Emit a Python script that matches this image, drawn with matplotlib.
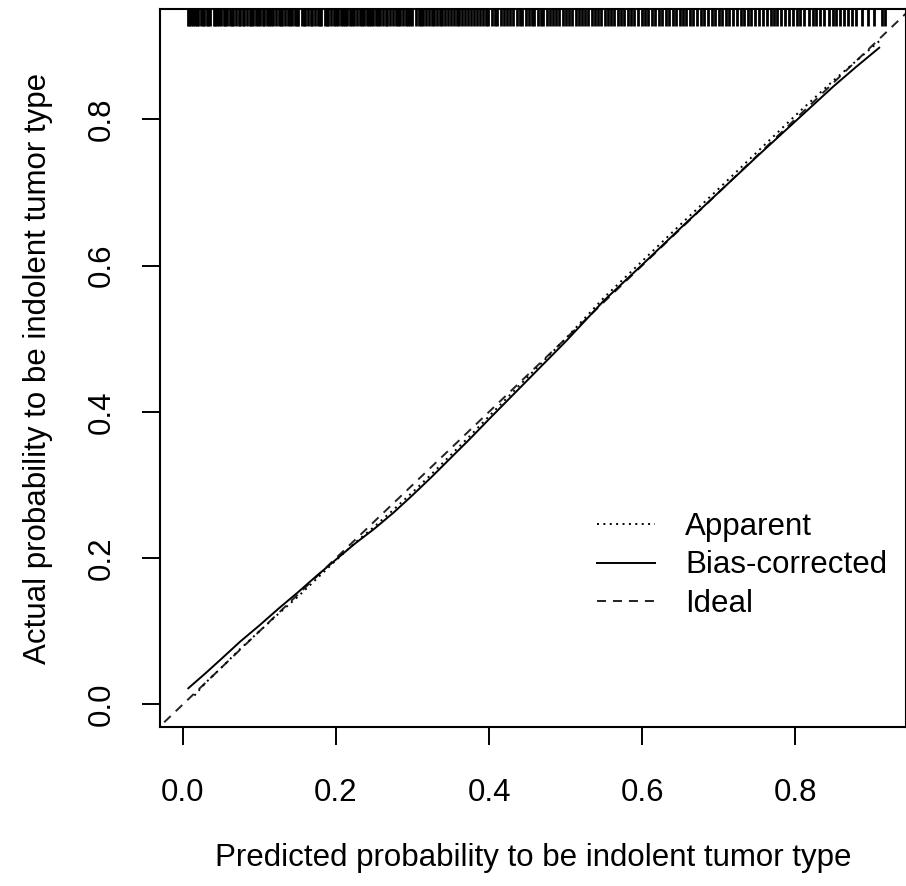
import numpy as np
import matplotlib
matplotlib.use("Agg")
import matplotlib.pyplot as plt
import matplotlib.transforms as mtransforms

plt.rcParams['font.family'] = ['Liberation Sans', 'DejaVu Sans']
plt.rcParams['lines.scale_dashes'] = False

# calibration curves
pred_x = [0.007, 0.03, 0.05, 0.075, 0.1, 0.125, 0.15, 0.175, 0.2, 0.225, 0.25, 0.275,
          0.3, 0.325, 0.35, 0.375, 0.4, 0.45, 0.5, 0.55, 0.6, 0.65, 0.7, 0.75,
          0.8, 0.85, 0.88, 0.91]
bias_corrected = [0.022, 0.043, 0.062, 0.086, 0.108, 0.131, 0.153, 0.176, 0.198, 0.22, 0.24, 0.262,
                  0.286, 0.311, 0.337, 0.363, 0.39, 0.443, 0.496, 0.552, 0.601, 0.651, 0.70, 0.749,
                  0.797, 0.845, 0.872, 0.898]
apparent_x = [0.015, 0.03, 0.05, 0.075, 0.1, 0.125, 0.15, 0.175, 0.2, 0.225, 0.25, 0.275,
              0.3, 0.325, 0.35, 0.375, 0.4, 0.45, 0.5, 0.55, 0.6, 0.65, 0.7, 0.75,
              0.8, 0.85, 0.88, 0.91]
apparent = [0.012, 0.03, 0.05, 0.076, 0.1, 0.124, 0.147, 0.172, 0.197, 0.221, 0.243, 0.266,
            0.29, 0.315, 0.341, 0.367, 0.394, 0.447, 0.5, 0.556, 0.606, 0.656, 0.705, 0.755,
            0.805, 0.853, 0.88, 0.907]

# predicted probabilities shown as the rug along the top
rug = [0.006, 0.008, 0.011, 0.013, 0.016, 0.019, 0.020, 0.023, 0.026, 0.028, 0.031, 0.033,
       0.036, 0.040, 0.042, 0.045, 0.047, 0.050, 0.053, 0.055, 0.058, 0.061, 0.064, 0.066,
       0.069, 0.073, 0.075, 0.078, 0.080, 0.084, 0.087, 0.089, 0.092, 0.096, 0.098, 0.101,
       0.104, 0.106, 0.110, 0.113, 0.115, 0.118, 0.121, 0.125, 0.128, 0.130, 0.133, 0.137,
       0.140, 0.142, 0.146, 0.149, 0.151, 0.155, 0.158, 0.160, 0.164, 0.167, 0.169, 0.173,
       0.176, 0.179, 0.181, 0.185, 0.188, 0.190, 0.194, 0.197, 0.200, 0.203, 0.206, 0.209,
       0.212, 0.215, 0.218, 0.221, 0.223, 0.227, 0.231, 0.234, 0.236, 0.240, 0.243, 0.246,
       0.249, 0.252, 0.255, 0.258, 0.262, 0.265, 0.267, 0.271, 0.274, 0.278, 0.281, 0.284,
       0.287, 0.291, 0.294, 0.297, 0.300, 0.304, 0.308, 0.311, 0.314, 0.318, 0.322, 0.325,
       0.328, 0.332, 0.336, 0.339, 0.343, 0.347, 0.350, 0.354, 0.358, 0.361, 0.365, 0.369,
       0.372, 0.377, 0.381, 0.384, 0.388, 0.392, 0.396, 0.399, 0.404, 0.408, 0.411, 0.416,
       0.420, 0.424, 0.428, 0.431, 0.436, 0.440, 0.443, 0.448, 0.452, 0.456, 0.459, 0.464,
       0.468, 0.471, 0.476, 0.480, 0.484, 0.488, 0.492, 0.497, 0.501, 0.505, 0.509, 0.514,
       0.518, 0.521, 0.526, 0.530, 0.534, 0.539, 0.543, 0.547, 0.551, 0.556, 0.560, 0.564,
       0.569, 0.573, 0.577, 0.582, 0.586, 0.590, 0.595, 0.600, 0.604, 0.608, 0.613, 0.617,
       0.622, 0.626, 0.631, 0.635, 0.640, 0.644, 0.649, 0.654, 0.658, 0.663, 0.667, 0.672,
       0.677, 0.681, 0.686, 0.691, 0.695, 0.700, 0.705, 0.710, 0.714, 0.719, 0.724, 0.729,
       0.733, 0.738, 0.743, 0.748, 0.753, 0.758, 0.763, 0.768, 0.772, 0.777, 0.782, 0.787,
       0.792, 0.797, 0.802, 0.807, 0.812, 0.818, 0.823, 0.828, 0.833, 0.838, 0.844, 0.849,
       0.854, 0.859, 0.864, 0.869, 0.875, 0.879, 0.887, 0.895, 0.903, 0.913, 0.918]

xticks = [0.0, 0.2, 0.4, 0.6, 0.8]
yticks = [0.0, 0.2, 0.4, 0.6, 0.8]

fsize = 22.5

fig = plt.figure(figsize=(9.06, 8.86), dpi=100)
ax = fig.add_axes([160 / 906, 1 - 727 / 886, 746 / 906, 718 / 886])

ax.set_xlim(-0.030, 0.945)
ax.set_ylim(-0.031, 0.951)

# ideal line across the whole box
ax.plot([-0.1, 1.0], [-0.1, 1.0], color='#222222', lw=1.4, dashes=(6.5, 5), label='Ideal', zorder=2)
ax.plot(apparent_x, apparent, color='black', lw=1.4, dashes=(1.4, 3.2), label='Apparent', zorder=3)
ax.plot(pred_x, bias_corrected, color='black', lw=1.4, label='Bias-corrected', zorder=3)

trans = mtransforms.blended_transform_factory(ax.transData, ax.transAxes)
ax.vlines(rug, 0.977, 1.0, transform=trans, color='black', lw=2.0, zorder=4)

ax.set_xticks(xticks)
ax.set_yticks(yticks)
ax.set_xticklabels(['%.1f' % v for v in xticks])
ax.set_yticklabels(['%.1f' % v for v in yticks], rotation=90, va='center')
ax.tick_params(length=13, width=1.4, labelsize=fsize, direction='out')
ax.tick_params(axis='x', pad=24)
ax.tick_params(axis='y', pad=18)
for s in ax.spines.values():
    s.set_linewidth(1.5)

ax.set_xlabel('Predicted probability to be indolent tumor type', fontsize=fsize)
ax.set_ylabel('Actual probability to be indolent tumor type', fontsize=fsize)
ax.xaxis.label.set_va('center')
ax.yaxis.label.set_va('center')
ax.xaxis.set_label_coords(0.5, (727 - 858) / 718)
ax.yaxis.set_label_coords((38 - 160) / 746, 0.5)

h, l = ax.get_legend_handles_labels()
order = [1, 2, 0]
ax.legend([h[i] for i in order], [l[i] for i in order], loc='upper left',
          bbox_to_anchor=(597 / 906, 1 - 512 / 886), bbox_transform=fig.transFigure,
          frameon=False, fontsize=fsize, handlelength=1.86, handletextpad=0.96,
          labelspacing=0.27, borderpad=0, borderaxespad=0)

fig.savefig('out.png', dpi=100)
